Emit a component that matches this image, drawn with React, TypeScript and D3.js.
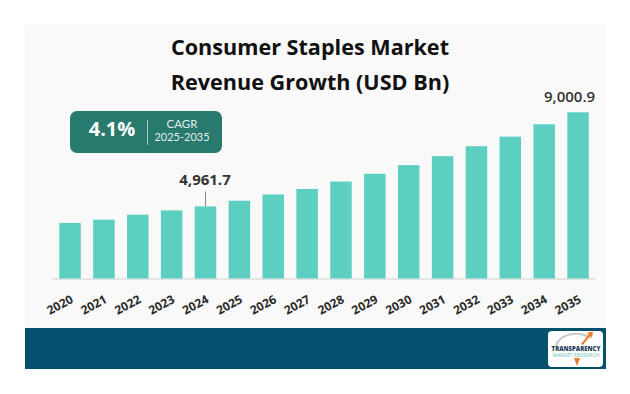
import React from 'react';
import * as d3 from 'd3';

const years = ['2020', '2021', '2022', '2023', '2024', '2025', '2026', '2027', '2028', '2029', '2030', '2031', '2032', '2033', '2034', '2035'];
const revenue = [4251, 4393, 4607, 4791, 4961.7, 5206, 5475, 5710, 6027, 6361, 6733, 7118, 7546, 7957, 8488, 9000.9];
const titleLines = ['Consumer Staples Market', 'Revenue Growth (USD Bn)'];
const labelled = ['2024', '2035'];

const W = 630;
const H = 394;
const baseY = 278.5;
const fmt = d3.format(',.1f');

const App = () => {
  const x = d3.scaleBand<string>()
    .domain(years)
    .range([59.3, 588.8])
    .paddingInner(0.365)
    .paddingOuter(0);

  const y = d3.scaleLinear()
    .domain([1868, 9000.9])
    .range([baseY, 112.3]);

  const font = '"Open Sans", sans-serif';

  return (
    <svg width={W} height={H} style={{ position: 'absolute', left: 0, top: 0, background: '#fff' }}>
      {/* panel */}
      <rect x={25} y={25} width={581} height={304} fill="#f9f9f9" />

      {/* title */}
      {titleLines.map((t, i) => (
        <text key={t} x={310} y={55 + i * 35} textAnchor="middle" fontFamily={font}
          fontWeight={700} fontSize={21.6} fill="#111">{t}</text>
      ))}

      {/* CAGR badge */}
      <rect x={70} y={111} width={152} height={42} rx={7} fill="#287a6e" />
      <text x={112} y={136} textAnchor="middle" fontFamily={font} fontWeight={700}
        fontSize={20} fill="#fff">4.1%</text>
      <line x1={147.5} x2={147.5} y1={120} y2={145} stroke="#fff" strokeOpacity={0.6} strokeWidth={1} />
      <text x={182} y={127.5} textAnchor="middle" fontFamily="Lato, sans-serif" fontSize={11.5}
        fill="#fff" fillOpacity={0.9}>CAGR</text>
      <text x={182} y={140.5} textAnchor="middle" fontFamily="Lato, sans-serif" fontSize={11}
        fill="#fff" fillOpacity={0.9}>2025-2035</text>

      {/* axis line */}
      <line x1={52} x2={595} y1={baseY + 0.5} y2={baseY + 0.5} stroke="#d0d0d0" strokeWidth={1} />

      {/* bars */}
      {years.map((yr, i) => (
        <rect key={yr} x={x(yr)} y={y(revenue[i])} width={x.bandwidth()}
          height={baseY - y(revenue[i])} fill="#5ccfc1" />
      ))}

      {/* value labels */}
      {years.map((yr, i) => {
        if (!labelled.includes(yr)) return null;
        const cx = (x(yr) as number) + x.bandwidth() / 2;
        const top = y(revenue[i]);
        if (i === years.length - 1) {
          return (
            <text key={yr} x={cx - 8.5} y={top - 10.5} textAnchor="middle" fontFamily={font}
              fontWeight={600} fontSize={15} fill="#333">{fmt(revenue[i])}</text>
          );
        }
        return (
          <g key={yr}>
            <line x1={cx} x2={cx} y1={top - 15} y2={top} stroke="#888" strokeWidth={1} />
            <text x={cx - 0.5} y={top - 21} textAnchor="middle" fontFamily={font}
              fontWeight={700} fontSize={15} fill="#333">{fmt(revenue[i])}</text>
          </g>
        );
      })}

      {/* x tick labels */}
      {years.map((yr) => {
        const cx = (x(yr) as number) + x.bandwidth() / 2;
        return (
          <text key={yr} transform={`translate(${cx + 4},${302}) rotate(-28)`} textAnchor="end"
            fontFamily={font} fontWeight={700} fontSize={12} fill="#2a2a2a">{yr}</text>
        );
      })}

      {/* footer band */}
      <rect x={25} y={328} width={581} height={41} fill="#04506f" />

      {/* logo */}
      <g>
        <rect x={548} y={331} width={55} height={36} rx={4} fill="#fff" />
        <path d="M556,346 A20,14 0 0 1 590,338" fill="none" stroke="#c8c8c8" strokeWidth={2} />
        <path d="M581,344 L589,334 L586,333 L593,331.5 L592,338 L590,336 L583,345 Z" fill="#f07a2c" />
        <path d="M574,358 L580,358 L577,366 Z" fill="#f07a2c" />
        <text x={576} y={350.5} textAnchor="middle" fontFamily={font} fontWeight={800}
          fontSize={6} fill="#1e3a5a">TRANSPARENCY</text>
        <text x={576} y={357} textAnchor="middle" fontFamily={font} fontSize={5.2}
          fill="#6cc4b4">MARKET RESEARCH</text>
      </g>
    </svg>
  );
};

export default App;
